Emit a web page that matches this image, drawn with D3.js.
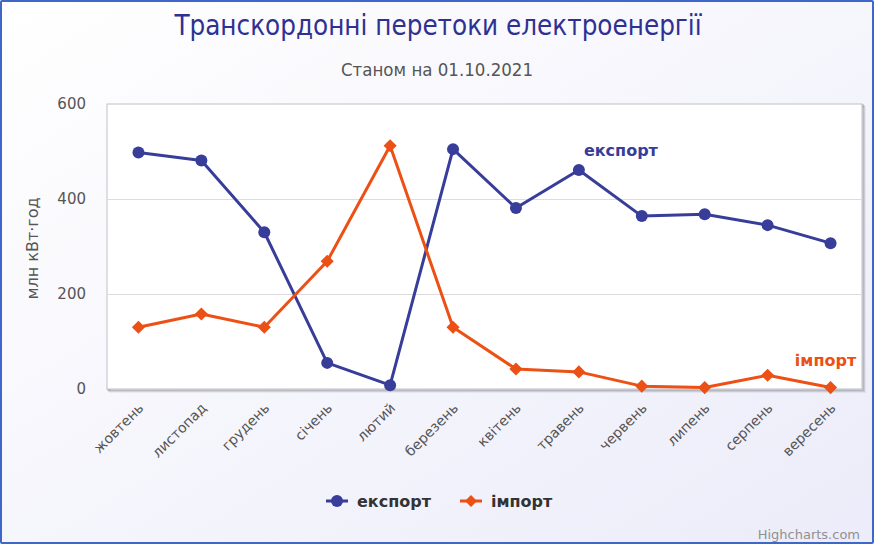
<!DOCTYPE html>
<html><head><meta charset="utf-8">
<script src="https://cdn.jsdelivr.net/npm/d3@7"></script>
<style>body{margin:0;padding:0;overflow:hidden}svg{display:block}</style>
</head><body>
<svg id="c" width="874" height="544"></svg>
<script>
const categories = ["жовтень","листопад","грудень","січень","лютий","березень","квітень","травень","червень","липень","серпень","вересень"];
const exportValues = [498, 481, 330, 55, 8, 505, 381, 461, 364, 368, 345, 307];
const importValues = [130, 158, 130, 269, 512, 130, 42, 36, 6, 3, 29, 3];
const yTicks = [0, 200, 400, 600];
const seriesNames = ["експорт", "імпорт"];

const W = 874, H = 544;
const m = {left:107, right:862, top:104, bottom:389};
const svg = d3.select("#c");
const font = "'DejaVu Sans', Verdana, sans-serif";

const defs = svg.append("defs");
const g = defs.append("linearGradient").attr("id","bg").attr("x1","0").attr("y1","0").attr("x2","1").attr("y2","1");
g.append("stop").attr("offset","0").attr("stop-color","#ffffff");
g.append("stop").attr("offset","1").attr("stop-color","#ececfa");

svg.append("rect").attr("x",1).attr("y",1).attr("width",W-2).attr("height",H-2)
  .attr("fill","url(#bg)").attr("stroke","#3f66c9").attr("stroke-width",2).attr("rx",1);

// plot area shadow + bg
for (let i=3;i>=1;i--) {
  svg.append("rect").attr("x",m.left+i).attr("y",m.top+i).attr("width",m.right-m.left).attr("height",m.bottom-m.top)
    .attr("fill","none").attr("stroke","#000").attr("stroke-opacity",0.05*(4-i)).attr("stroke-width",2);
}
svg.append("rect").attr("x",m.left).attr("y",m.top).attr("width",m.right-m.left).attr("height",m.bottom-m.top)
  .attr("fill","#ffffff").attr("stroke","#c0c0c8").attr("stroke-width",1);

const x = d3.scaleBand().domain(categories).range([m.left, m.right]);
const y = d3.scaleLinear().domain([0,600]).range([m.bottom, m.top]);
const cx = d => x(d) + x.bandwidth()/2;

// grid
svg.append("g").selectAll("line").data(yTicks.filter(t=>t>0 && t<600)).join("line")
  .attr("x1",m.left).attr("x2",m.right).attr("y1",d=>y(d)+0.5).attr("y2",d=>y(d)+0.5)
  .attr("stroke","#dcdcdc").attr("stroke-width",1);

// y axis labels
svg.append("g").selectAll("text").data(yTicks).join("text")
  .attr("x",m.left-21).attr("y",d=>y(d)+5).attr("text-anchor","end")
  .attr("font-family",font).attr("font-size",15).attr("fill","#555").text(d=>d);

// y title
svg.append("text").attr("transform",`translate(38,${(m.top+m.bottom)/2+2}) rotate(-90)`)
  .attr("text-anchor","middle").attr("font-family",font).attr("font-size",16).attr("fill","#555")
  .text("млн кВт·год");

// x labels
svg.append("g").selectAll("text").data(categories).join("text")
  .attr("transform",d=>`translate(${cx(d)+6},${m.bottom+20}) rotate(-45)`)
  .attr("text-anchor","end").attr("font-family",font).attr("font-size",14).attr("fill","#555").text(d=>d);

// title
svg.append("text").attr("x",W/2+1).attr("y",35).attr("text-anchor","middle")
  .attr("font-family","'DejaVu Sans Condensed', 'DejaVu Sans', sans-serif").attr("font-size",27.5).attr("fill","#2e3192")
  .text("Транскордонні перетоки електроенергії");
svg.append("text").attr("x",W/2).attr("y",76).attr("text-anchor","middle")
  .attr("font-family","'DejaVu Sans Condensed', 'DejaVu Sans', sans-serif").attr("font-size",18.5).attr("fill","#555")
  .text("Станом на 01.10.2021");

const expColor = "#373d99", impColor = "#ed5014";
const line = d3.line().x((d,i)=>cx(categories[i])).y(d=>y(d));

svg.append("path").datum(exportValues).attr("d",line).attr("fill","none").attr("stroke",expColor).attr("stroke-width",3).attr("stroke-linejoin","round");
svg.append("path").datum(importValues).attr("d",line).attr("fill","none").attr("stroke",impColor).attr("stroke-width",3).attr("stroke-linejoin","round");

svg.append("g").selectAll("circle").data(exportValues).join("circle")
  .attr("cx",(d,i)=>cx(categories[i])).attr("cy",d=>y(d)).attr("r",6).attr("fill",expColor);
const diamond = d3.symbol().type(d3.symbolDiamond2).size(110);
svg.append("g").selectAll("path").data(importValues).join("path")
  .attr("transform",(d,i)=>`translate(${cx(categories[i])},${y(d)})`).attr("d",diamond).attr("fill",impColor);

// data labels
svg.append("text").attr("x",cx(categories[7])+42).attr("y",y(exportValues[7])-14).attr("text-anchor","middle")
  .attr("font-family",font).attr("font-weight","bold").attr("font-size",16).attr("fill",expColor).text(seriesNames[0]);
svg.append("text").attr("x",cx(categories[11])-5).attr("y",y(importValues[11])-22).attr("text-anchor","middle")
  .attr("font-family",font).attr("font-weight","bold").attr("font-size",16).attr("fill",impColor).text(seriesNames[1]);

// legend
const lg = svg.append("g");
const items = [{n:seriesNames[0],c:expColor,x:326,sym:"c"},{n:seriesNames[1],c:impColor,x:460,sym:"d"}];
items.forEach(it=>{
  lg.append("line").attr("x1",it.x).attr("x2",it.x+22).attr("y1",501).attr("y2",501).attr("stroke",it.c).attr("stroke-width",3);
  if (it.sym==="c") lg.append("circle").attr("cx",it.x+11).attr("cy",501).attr("r",6).attr("fill",it.c);
  else lg.append("path").attr("transform",`translate(${it.x+11},501)`).attr("d",d3.symbol().type(d3.symbolDiamond2).size(90)).attr("fill",it.c);
  lg.append("text").attr("x",it.x+31).attr("y",507).attr("font-family",font).attr("font-weight","bold").attr("font-size",16).attr("fill","#333").text(it.n);
});

// credits
svg.append("text").attr("x",860).attr("y",539).attr("text-anchor","end").attr("font-family",font).attr("font-size",13).attr("fill","#909090").text("Highcharts.com");
</script>
</body></html>
